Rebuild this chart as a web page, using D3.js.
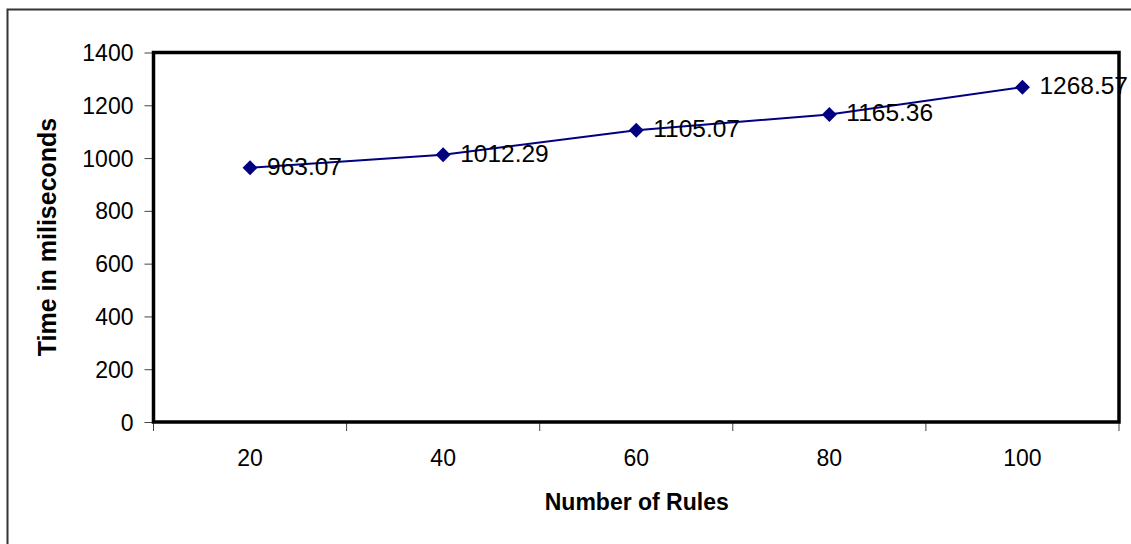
<!DOCTYPE html>
<html>
<head>
<meta charset="utf-8">
<script src="https://cdn.jsdelivr.net/npm/d3@7"></script>
<style>
  html, body { margin: 0; padding: 0; background: #fff; }
  svg { display: block; font-family: "Liberation Sans", Arial, sans-serif; }
</style>
</head>
<body>
<svg id="chart" width="1131" height="544"></svg>
<script>
const categories = ["20", "40", "60", "80", "100"];
const values = [963.07, 1012.29, 1105.07, 1165.36, 1268.57];
const yTicks = [0, 200, 400, 600, 800, 1000, 1200, 1400];
const xTitle = "Number of Rules";
const yTitle = "Time in miliseconds";

const svg = d3.select("#chart");
const plot = { left: 153.5, right: 1119, top: 52.5, bottom: 422 };

// outer chart border (right/bottom beyond the picture)
svg.append("rect")
  .attr("x", 7.5).attr("y", 9.5)
  .attr("width", 1200).attr("height", 600)
  .attr("fill", "none").attr("stroke", "#333").attr("stroke-width", 2);

const x = d3.scaleBand().domain(categories).range([plot.left, plot.right]).padding(0);
const y = d3.scaleLinear().domain([0, 1400]).range([plot.bottom, plot.top]);

// y axis
const yAxis = d3.axisLeft(y).tickValues(yTicks).tickSize(9).tickPadding(11).tickFormat(d3.format("d"));
const gy = svg.append("g").attr("transform", `translate(${plot.left},0)`).call(yAxis);
gy.select(".domain").remove();
gy.selectAll(".tick line").attr("stroke", "#444").attr("stroke-width", 1);
gy.selectAll(".tick text").attr("font-size", 23).attr("fill", "#000")
  .attr("font-family", "'Liberation Sans', Arial, sans-serif").attr("dy", "0.35em");

// x axis labels
const xAxis = d3.axisBottom(x).tickSize(0).tickPadding(0);
const gx = svg.append("g").attr("transform", `translate(0,${plot.bottom})`).call(xAxis);
gx.select(".domain").remove();
gx.selectAll(".tick text").attr("font-size", 23).attr("fill", "#000")
  .attr("font-family", "'Liberation Sans', Arial, sans-serif")
  .attr("dy", null).attr("y", 44);

// x tick marks between categories
const boundaries = categories.map(c => x(c)).concat([x(categories[categories.length - 1]) + x.bandwidth()]);
svg.append("g").selectAll("line").data(boundaries).join("line")
  .attr("x1", d => d).attr("x2", d => d)
  .attr("y1", plot.bottom).attr("y2", plot.bottom + 9)
  .attr("stroke", "#444").attr("stroke-width", 1);

// plot frame
svg.append("rect")
  .attr("x", plot.left).attr("y", plot.top)
  .attr("width", plot.right - plot.left).attr("height", plot.bottom - plot.top)
  .attr("fill", "none").attr("stroke", "#000").attr("stroke-width", 3.5);

// line
const pts = categories.map((c, i) => ({ c, v: values[i] }));
const cx = d => x(d.c) + x.bandwidth() / 2;
svg.append("path").datum(pts)
  .attr("d", d3.line().x(cx).y(d => y(d.v)))
  .attr("fill", "none").attr("stroke", "#000080").attr("stroke-width", 2);

// markers
svg.append("g").selectAll("path").data(pts).join("path")
  .attr("d", d3.symbol().type(d3.symbolSquare).size(112))
  .attr("transform", d => `translate(${cx(d)},${y(d.v)}) rotate(45)`)
  .attr("fill", "#000080");

// data labels
svg.append("g").selectAll("text").data(pts).join("text")
  .attr("x", d => cx(d) + 17)
  .attr("y", d => y(d.v) + 7)
  .attr("font-size", 24.5).attr("fill", "#000")
  .text(d => d3.format(".2f")(d.v));

// axis titles
svg.append("text")
  .attr("x", (plot.left + plot.right) / 2 + 0.5).attr("y", 510)
  .attr("text-anchor", "middle").attr("font-size", 23).attr("font-weight", "bold")
  .text(xTitle);

svg.append("text")
  .attr("transform", `translate(56,237) rotate(-90)`)
  .attr("text-anchor", "middle").attr("font-size", 25).attr("font-weight", "bold")
  .text(yTitle);
</script>
</body>
</html>
